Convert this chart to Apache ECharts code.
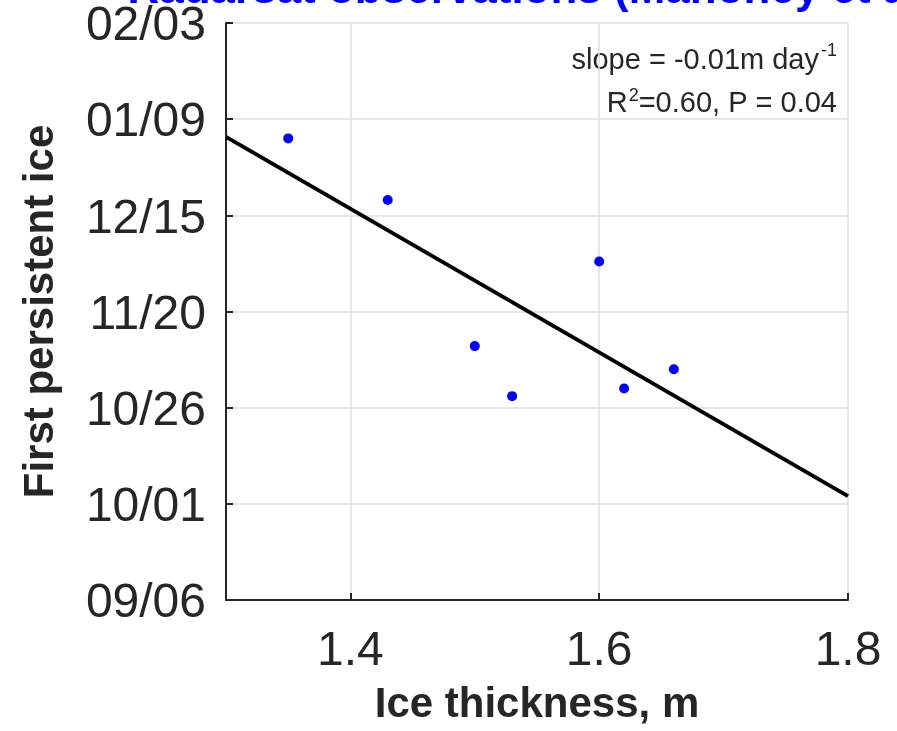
<!DOCTYPE html>
<html>
<head>
<meta charset="utf-8">
<script src="https://cdn.jsdelivr.net/npm/echarts@6/dist/echarts.min.js"></script>
<style>
  html, body { margin: 0; padding: 0; background: #fff; }
  #chart { width: 897px; height: 731px; }
</style>
</head>
<body>
<div id="chart"></div>
<script>
// Ice thickness (m) against date of first persistent ice
const thickness = [1.35, 1.43, 1.60, 1.50, 1.53, 1.62, 1.66];
const firstIceDates = ['01/04', '12/19', '12/03', '11/11', '10/29', '10/31', '11/05'];

// Least-squares fit endpoints (thickness m, days after 09/06)
const fitThickness = [1.3, 1.8];
const fitDays = [120.4, 27.0];

// Date axis tick labels, every 25 days from 09/06
const yTickLabels = ['09/06', '10/01', '10/26', '11/20', '12/15', '01/09', '02/03'];
const xTickValues = [1.4, 1.6, 1.8];

const titleText = 'Radarsat observations (Mahoney et al.)';

// Convert MM/DD to days after 09/06 (season runs Sep -> Feb)
function seasonDay(mmdd) {
  const [m, d] = mmdd.split('/').map(Number);
  const year = m >= 7 ? 2000 : 2001;
  const t = Date.UTC(year, m - 1, d);
  const start = Date.UTC(2000, 8, 6);
  return Math.round((t - start) / 86400000);
}

const points = thickness.map((x, i) => [x, seasonDay(firstIceDates[i])]);
const fitLine = fitThickness.map((x, i) => [x, fitDays[i]]);

const chart = echarts.init(document.getElementById('chart'), null, { renderer: 'canvas' });
const FONT = '"Liberation Sans", Arial, Helvetica, sans-serif';
const INK = '#262626';

chart.setOption({
  animation: false,
  backgroundColor: '#ffffff',
  textStyle: { fontFamily: FONT },
  grid: { left: 226, right: 49, top: 23, bottom: 130, containLabel: false },
  graphic: [
    {
      type: 'text', x: 537, y: -31,
      style: {
        text: titleText, fill: '#0000ff', font: 'bold 44px ' + FONT,
        align: 'center', verticalAlign: 'top'
      }
    },
    {
      type: 'text', x: 837, y: 42,
      style: {
        text: '{b|slope = -0.01m day}{s|-1}',
        align: 'right', verticalAlign: 'top',
        rich: {
          b: { fontSize: 29, fontFamily: FONT, fill: INK, verticalAlign: 'bottom' },
          s: { fontSize: 18, fontFamily: FONT, fill: INK, verticalAlign: 'top', padding: [0, 0, 15, 2] }
        }
      }
    },
    {
      type: 'text', x: 837, y: 87,
      style: {
        text: '{b|R}{s|2}{b|=0.60, P = 0.04}',
        align: 'right', verticalAlign: 'top',
        rich: {
          b: { fontSize: 29, fontFamily: FONT, fill: INK },
          s: { fontSize: 18, fontFamily: FONT, fill: INK, padding: [0, 0, 15, 1] }
        }
      }
    }
  ],
  xAxis: {
    type: 'value', min: 1.3, max: 1.8,
    name: 'Ice thickness, m', nameLocation: 'middle', nameGap: 84,
    nameTextStyle: { fontSize: 42, fontWeight: 'bold', color: INK, fontFamily: FONT },
    axisLine: { show: true, lineStyle: { color: INK, width: 2 } },
    axisTick: { show: true, inside: true, length: 7, customValues: xTickValues, lineStyle: { color: INK, width: 2 } },
    axisLabel: { customValues: xTickValues, fontSize: 48, color: INK, margin: 28, fontFamily: FONT },
    splitLine: { show: true, lineStyle: { color: '#dedede', width: 1.5 } }
  },
  yAxis: {
    type: 'value', min: 0, max: 150, interval: 25,
    name: 'First persistent ice', nameLocation: 'middle', nameGap: 164,
    nameTextStyle: { fontSize: 42, fontWeight: 'bold', color: INK, fontFamily: FONT },
    axisLine: { show: true, lineStyle: { color: INK, width: 2 } },
    axisTick: { show: true, inside: true, length: 7, lineStyle: { color: INK, width: 2 } },
    axisLabel: {
      color: INK, margin: 20,
      formatter: v => '{d|' + yTickLabels[Math.round(v / 25)] + '}',
      rich: {
        d: { fontSize: 48, color: INK, fontFamily: FONT, padding: [8, 0, 0, 0] }
      }
    },
    splitLine: { show: true, lineStyle: { color: '#dedede', width: 1.5 } }
  },
  series: [
    {
      type: 'line', data: fitLine, symbol: 'none', z: 3,
      lineStyle: { color: '#000000', width: 4 }
    },
    {
      type: 'scatter', data: points, symbol: 'circle', symbolSize: 10, z: 4,
      itemStyle: { color: '#0000ff', opacity: 1 }
    }
  ]
});
</script>
</body>
</html>
